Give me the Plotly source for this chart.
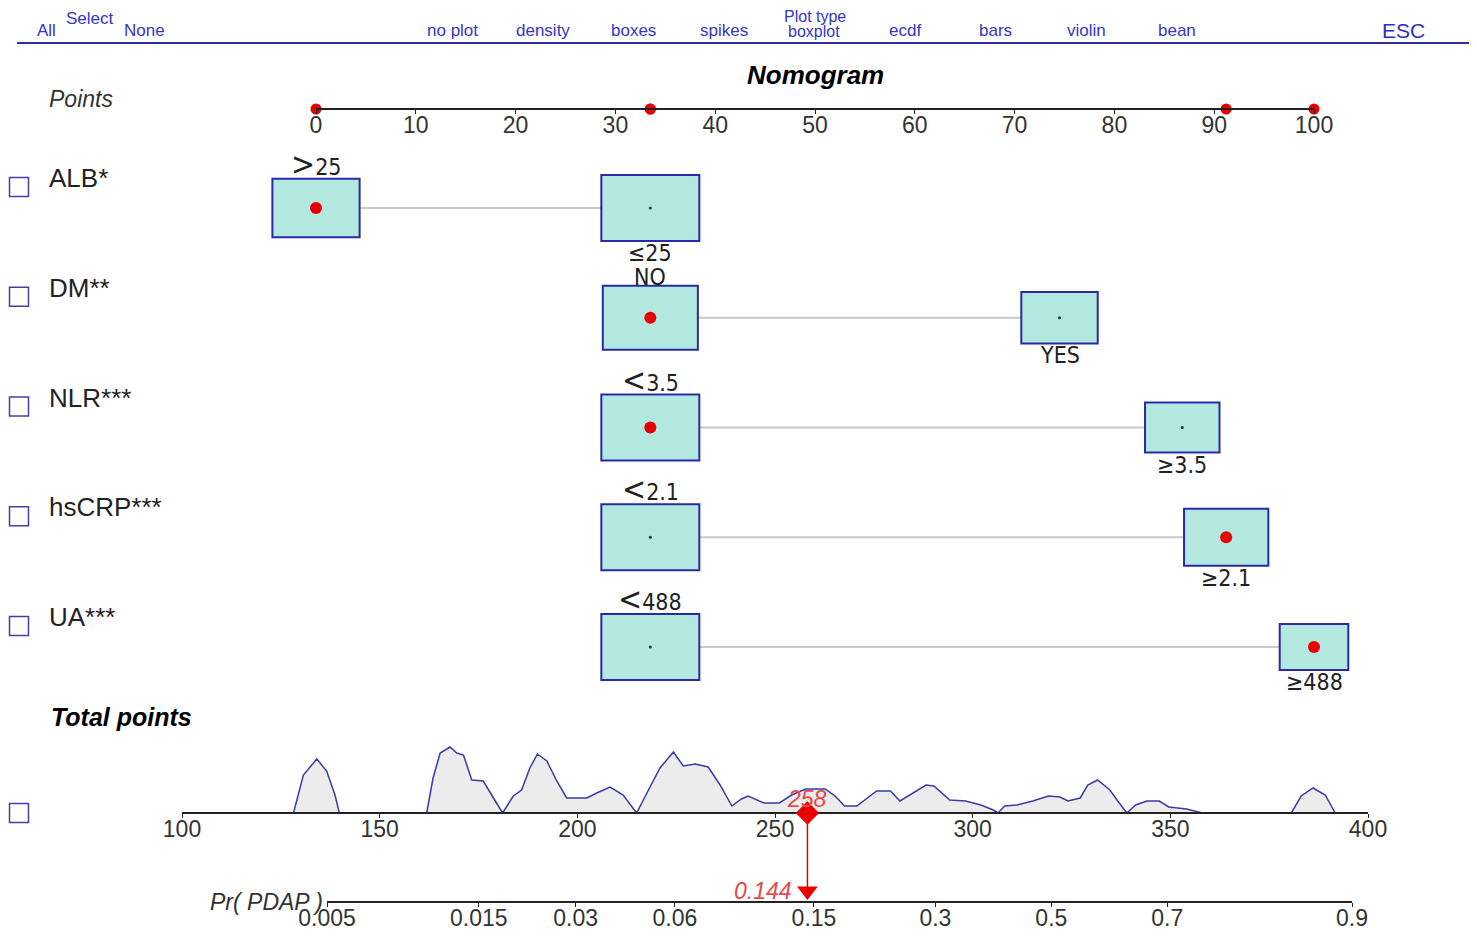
import numpy as np
import plotly.graph_objects as go

# ---- nomogram content ----
variables = ["ALB*", "DM**", "NLR***", "hsCRP***", "UA***"]
low_signs = [">", "", "<", "<", "<"]
low_values = ["25", "NO", "3.5", "2.1", "488"]
high_labels = ["≤25", "YES", "≥3.5", "≥2.1", "≥488"]
low_points = [0, 33.5, 33.5, 33.5, 33.5]
high_points = [33.5, 74.5, 86.8, 91.2, 100]
# relative box size (share of patients in each level)
low_share = [0.89, 0.97, 1.0, 1.0, 1.0]
high_share = [1.0, 0.78, 0.76, 0.86, 0.70]
# level of the example patient (red dots)
patient_high = [False, False, False, True, True]

points_ticks = list(range(0, 101, 10))
total_ticks = list(range(100, 401, 50))
pr_ticks = [0.005, 0.015, 0.03, 0.06, 0.15, 0.3, 0.5, 0.7, 0.9]
pr_labels = ["0.005", "0.015", "0.03", "0.06", "0.15", "0.3", "0.5", "0.7", "0.9"]
# logit(p) = a + b * total points
logit_a = -9.242
logit_b = 0.02889

# distribution of total points (relative density)
density_x = [128.2, 130.7, 134.1, 136.6, 138.7, 139.8,
             161.9, 163.5, 165.3, 167.8, 169.5, 171.2, 173.3, 176.2, 178.8, 181.1,
             183.8, 185.9, 188.0, 189.9, 192.3, 194.8, 197.3, 202.4, 204.9, 208.3, 211.6, 215.0,
             217.6, 220.9, 224.3, 226.8, 229.8, 233.1, 236.1, 239.1, 241.5, 243.2, 247.2, 251.1,
             254.2, 257.7, 262.7, 265.2, 267.6, 270.7, 275.7, 279.2, 281.6, 284.2, 288.2, 290.2,
             294.2, 298.2, 302.1, 305.2, 306.4,
             308.1, 311.2, 315.2, 319.2, 322.1, 324.1, 327.2, 329.1, 331.6, 334.7, 336.7, 339.0,
             341.2, 344.1, 347.2, 349.6, 354.1, 357.6, 358.1,
             380.6, 383.1, 386.1, 389.2, 391.7]
density_y = [0, 38, 54, 42, 18, 0,
             0, 35, 60, 66, 60, 58, 33, 32, 15, 0,
             17, 23, 45, 59, 52, 32, 15, 15, 20, 26, 18, 0,
             20, 45, 61, 47, 49, 46, 28, 7, 14, 17, 10, 10,
             18, 24, 24, 17, 7, 7, 22, 22, 12, 18, 28, 27,
             13, 12, 8, 3, 0,
             7, 8, 12, 17, 16, 12, 15, 28, 33, 23, 12, 0,
             8, 12, 12, 6, 4, 1, 0,
             0, 17, 25, 18, 0]

menu_left = ["All", "None"]
menu_items = ["no plot", "density", "boxes", "spikes", "boxplot", "ecdf", "bars", "violin", "bean"]

# ---- layout helpers (page pixels; the page body adds an 8px offset) ----
W, H, OFF = 1477, 936, 8
FW, FH = W - OFF, H - OFF
FONT = "Liberation Sans, Arial, sans-serif"
NARROW = "Liberation Sans Narrow, DejaVu Sans Condensed, Arial Narrow, Liberation Sans, sans-serif"
BLUE = "#3535c8"
PT_PX = (316, 1314)    # pixel of 0 and 100 points
TP_PX = (182, 1368)    # pixel of 100 and 400 total points
ROW_PX0, ROW_STEP = 208, 109.75


def fx(px):
    return (px - OFF) / FW


def fy(px):
    return 1 - (px - OFF) / FH


def row(px):
    return (px - ROW_PX0) / ROW_STEP


pts_per_px = 100 / (PT_PX[1] - PT_PX[0])
x_range = [(OFF - PT_PX[0]) * pts_per_px, (W - PT_PX[0]) * pts_per_px]
y_range = [row(H), row(OFF)]
BOX_W = 98 * pts_per_px
BOX_H = 66 / ROW_STEP
K_POINTS, K_TOTAL, K_PR, K_TRI = row(109), row(813), row(902), row(891)

selected = [h if s else l for l, h, s in zip(low_points, high_points, patient_high)]
total = sum(selected)
prob = 1 / (1 + np.exp(-(logit_a + logit_b * total)))
pr_pos = [(np.log(p / (1 - p)) - logit_a) / logit_b for p in pr_ticks]

fig = go.Figure()
shapes = []
annotations = []
level_font = dict(family=NARROW, size=23, color="#222")

# connecting lines then boxes
for i in range(len(variables)):
    shapes.append(dict(type="line", xref="x", yref="y", x0=low_points[i], x1=high_points[i],
                       y0=i, y1=i, line=dict(color="#c8c8c8", width=2), layer="below"))
for i in range(len(variables)):
    for c, s in ((low_points[i], low_share[i]), (high_points[i], high_share[i])):
        shapes.append(dict(type="rect", xref="x", yref="y",
                           x0=c - BOX_W * s / 2, x1=c + BOX_W * s / 2,
                           y0=i - BOX_H * s / 2, y1=i + BOX_H * s / 2,
                           fillcolor="#b2e8e0", line=dict(color="#2a2aa6", width=2), layer="below"))
    sign = low_signs[i].replace("<", "&lt;").replace(">", "&gt;")
    low_text = ('<span style="font-size:32px">%s</span>%s' % (sign, low_values[i])
                if sign else low_values[i])
    annotations.append(dict(xref="x", yref="y", x=low_points[i], y=i - BOX_H * low_share[i] / 2,
                            text=low_text, showarrow=False, xanchor="center",
                            yanchor="bottom", yshift=-6, font=level_font))
    annotations.append(dict(xref="x", yref="y", x=high_points[i], y=i + BOX_H * high_share[i] / 2,
                            text=high_labels[i], showarrow=False, xanchor="center",
                            yanchor="top", yshift=3, font=level_font))
    annotations.append(dict(xref="paper", yref="y", x=fx(47), y=i + row(178) - row(208),
                            text=variables[i], showarrow=False, xanchor="left", yanchor="middle",
                            font=dict(family=FONT, size=26, color="#222")))

# unselected centre dots
un_x = [l if s else h for l, h, s in zip(low_points, high_points, patient_high)]
fig.add_trace(go.Scatter(x=un_x, y=list(range(len(variables))), mode="markers",
                         marker=dict(size=3, color="#1a3a3a"), hoverinfo="skip"))
fig.add_trace(go.Scatter(x=selected, y=list(range(len(variables))), mode="markers",
                         marker=dict(size=12, color="#e80000"), hoverinfo="skip"))
# check boxes
box_x = (19 - PT_PX[0]) * pts_per_px
fig.add_trace(go.Scatter(x=[box_x] * (len(variables) + 1),
                         y=[i + row(187) - row(208) for i in range(len(variables))] + [K_TOTAL],
                         mode="markers", cliponaxis=False, hoverinfo="skip",
                         marker=dict(symbol="square-open", size=19, color="#4b3ca8",
                                     line=dict(width=1.5))))
# points scale red dots
fig.add_trace(go.Scatter(x=selected, y=[K_POINTS] * len(selected), xaxis="x2", yaxis="y",
                         mode="markers", cliponaxis=False, hoverinfo="skip",
                         marker=dict(size=11, color="#e80000")))
# density of total points
fig.add_trace(go.Scatter(x=density_x, y=density_y, xaxis="x3", yaxis="y2", mode="lines",
                         fill="tozeroy", fillcolor="#ececec",
                         line=dict(color="#3a3aa8", width=1.5), hoverinfo="skip"))
# probability line
fig.add_trace(go.Scatter(x=[pr_pos[0], pr_pos[-1]], y=[K_PR, K_PR], xaxis="x4", yaxis="y",
                         mode="lines", line=dict(color="#222", width=2), hoverinfo="skip"))
# red pointer
fig.add_trace(go.Scatter(x=[total, total], y=[K_TOTAL, K_TRI], xaxis="x4", yaxis="y",
                         mode="lines", line=dict(color="#e80000", width=1.5), hoverinfo="skip"))
fig.add_trace(go.Scatter(x=[total], y=[K_TOTAL], xaxis="x4", yaxis="y", mode="markers",
                         cliponaxis=False, marker=dict(symbol="diamond", size=18, color="#e80000"),
                         hoverinfo="skip"))
fig.add_trace(go.Scatter(x=[total], y=[K_TRI], xaxis="x4", yaxis="y", mode="markers",
                         cliponaxis=False,
                         marker=dict(symbol="triangle-down", size=18, color="#e80000"),
                         hoverinfo="skip"))

annotations += [
    dict(xref="x4", yref="y", x=total, y=K_TOTAL, text="<i>%d</i>" % round(total),
         showarrow=False, xanchor="center", yanchor="bottom", yshift=-1,
         font=dict(family=FONT, size=23, color="#e84848")),
    dict(xref="x4", yref="y", x=total, y=K_TRI, text="<i>%.3f</i>" % prob,
         showarrow=False, xanchor="right", xshift=-13, yanchor="middle",
         font=dict(family=FONT, size=23, color="#e84848")),
    dict(xref="paper", yref="y", x=fx(325), y=K_PR, text="<i>Pr( PDAP )</i>",
         showarrow=False, xanchor="right", yanchor="middle",
         font=dict(family=FONT, size=23, color="#333")),
    dict(xref="paper", yref="paper", x=fx(815), y=fy(75), text="<b><i>Nomogram</i></b>",
         showarrow=False, xanchor="center", yanchor="middle",
         font=dict(family=FONT, size=26, color="#000")),
    dict(xref="paper", yref="paper", x=fx(47), y=fy(99), text="<i>Points</i>",
         showarrow=False, xanchor="left", yanchor="middle",
         font=dict(family=FONT, size=23, color="#333")),
    dict(xref="paper", yref="paper", x=fx(49), y=fy(717), text="<b><i>Total points</i></b>",
         showarrow=False, xanchor="left", yanchor="middle",
         font=dict(family=FONT, size=25, color="#000")),
]

# top menu
menu_font = dict(family=FONT, size=17, color=BLUE)
small_menu = dict(family=FONT, size=16, color=BLUE)
annotations.append(dict(xref="paper", yref="paper", x=fx(90), y=fy(18), text="Select",
                        showarrow=False, xanchor="center", yanchor="middle", font=menu_font))
for lab, px in zip(menu_left, (46, 144)):
    annotations.append(dict(xref="paper", yref="paper", x=fx(px), y=fy(31), text=lab,
                            showarrow=False, xanchor="center", yanchor="middle", font=menu_font))
for j, lab in enumerate(menu_items):
    annotations.append(dict(xref="paper", yref="paper", x=fx(452 + j * 90.6),
                            y=fy(32 if lab == "boxplot" else 31), text=lab,
                            showarrow=False, xanchor="center", yanchor="middle",
                            font=small_menu if lab == "boxplot" else menu_font))
annotations.append(dict(xref="paper", yref="paper", x=fx(815), y=fy(17), text="Plot type",
                        showarrow=False, xanchor="center", yanchor="middle", font=small_menu))
annotations.append(dict(xref="paper", yref="paper", x=fx(1403), y=fy(31), text="ESC",
                        showarrow=False, xanchor="center", yanchor="middle",
                        font=dict(family=FONT, size=21, color="#2e2ec0")))
shapes.append(dict(type="line", xref="paper", yref="paper", x0=fx(17), x1=fx(1470),
                   y0=fy(43), y1=fy(43), line=dict(color="#2e2e9e", width=2)))

tick_common = dict(showgrid=False, zeroline=False, ticks="outside", ticklen=4, tickwidth=1,
                   tickcolor="#222", ticklabelstandoff=-9,
                   tickfont=dict(family=FONT, size=23, color="#333"))

fig.update_layout(
    width=FW, height=FH, margin=dict(l=0, r=0, t=0, b=0, pad=0, autoexpand=False),
    plot_bgcolor="rgba(0,0,0,0)", paper_bgcolor="white", showlegend=False,
    xaxis=dict(domain=[0, 1], range=x_range, visible=False),
    yaxis=dict(domain=[0, 1], range=y_range, visible=False),
    xaxis2=dict(domain=[fx(PT_PX[0]), fx(PT_PX[1])], range=[0, 100], anchor="free",
                position=fy(109), showline=True, linecolor="#222", linewidth=2,
                tickvals=points_ticks, **tick_common),
    xaxis3=dict(domain=[fx(TP_PX[0]), fx(TP_PX[1])], range=[100, 400], anchor="free",
                position=fy(813), showline=True, linecolor="#222", linewidth=2,
                tickvals=total_ticks, **tick_common),
    yaxis2=dict(domain=[fy(813), fy(813 - 78)], range=[0, 78], visible=False, anchor="x3"),
    xaxis4=dict(domain=[fx(TP_PX[0]), fx(TP_PX[1])], range=[100, 400], anchor="free",
                position=fy(902), showline=False, tickvals=pr_pos, ticktext=pr_labels,
                **tick_common),
    shapes=shapes,
    annotations=annotations,
)

fig.write_html("out.html")
